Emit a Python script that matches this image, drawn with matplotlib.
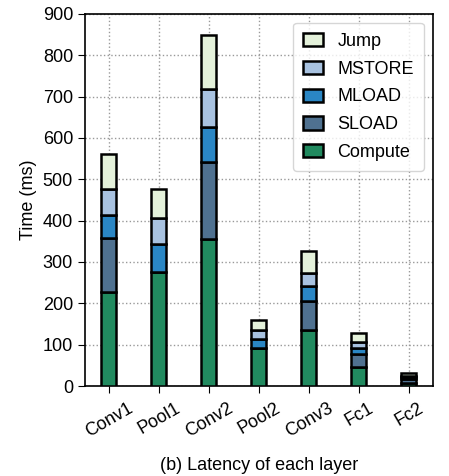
import matplotlib
matplotlib.use('Agg')
import matplotlib.pyplot as plt
import numpy as np

plt.rcParams['font.family'] = ['Liberation Sans', 'DejaVu Sans']

layers = ['Conv1', 'Pool1', 'Conv2', 'Pool2', 'Conv3', 'Fc1', 'Fc2']
compute = [228, 276, 355, 93, 135, 47, 8]
sload = [129, 0, 186, 0, 71, 30, 8]
mload = [57, 67, 86, 20, 37, 14, 5]
mstore = [62, 63, 92, 22, 31, 16, 4]
jump = [85, 71, 130, 25, 53, 22, 7]

series = [('Compute', compute, '#218a5f'),
          ('SLOAD', sload, '#4f7190'),
          ('MLOAD', mload, '#2a86c4'),
          ('MSTORE', mstore, '#a8c2e0'),
          ('Jump', jump, '#e4f1da')]

fig, ax = plt.subplots(figsize=(4.49, 4.76), dpi=100)
x = np.arange(len(layers))
bottom = np.zeros(len(layers))
handles = []
for name, vals, color in series:
    h = ax.bar(x, vals, 0.3, bottom=bottom, color=color, edgecolor='black',
               linewidth=1.8, label=name, zorder=3)
    handles.append(h)
    bottom += np.array(vals)

ax.set_xticks(x)
ax.set_xticklabels(layers, rotation=30, fontsize=13)
ax.set_xlim(-0.48, 6.48)
ax.set_ylim(0, 900)
ax.set_yticks(range(0, 901, 100))
ax.tick_params(axis='both', labelsize=13, length=5)
ax.tick_params(axis='x', pad=5)
ax.set_ylabel('Time (ms)', fontsize=13)
ax.set_xlabel('(b) Latency of each layer', fontsize=13, labelpad=12)
ax.grid(True, linestyle=':', color='#999999', linewidth=1, zorder=0)
for s in ax.spines.values():
    s.set_linewidth(1.2)

ax.legend(handles[::-1], [s[0] for s in series][::-1], loc='upper right',
          fontsize=13, handlelength=1.1, handleheight=0.75, labelspacing=0.6,
          borderpad=0.55, handletextpad=0.8)

plt.subplots_adjust(left=0.189, right=0.964, top=0.971, bottom=0.189)
plt.savefig('out.png', dpi=100)
